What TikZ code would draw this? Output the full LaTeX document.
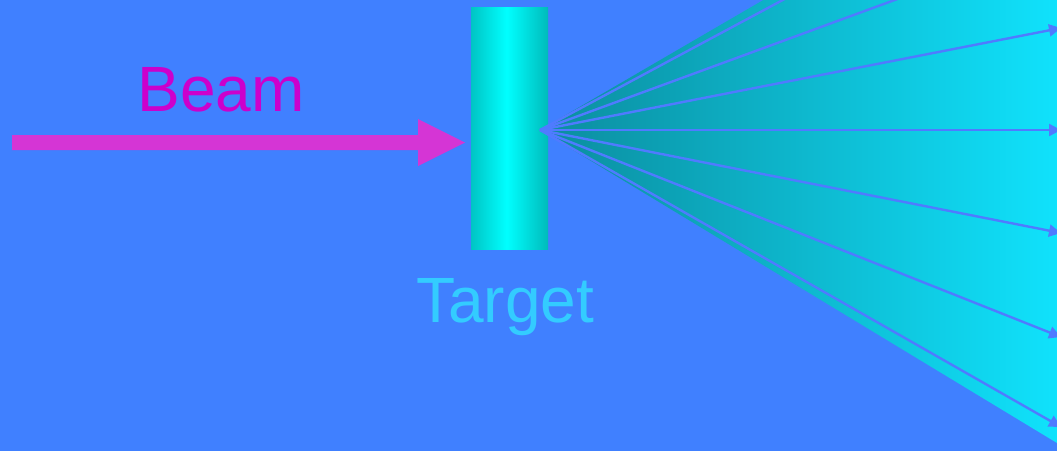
\documentclass[tikz,border=0pt]{standalone}
\usepackage{fontspec}
\setmainfont{Liberation Sans}
\usetikzlibrary{arrows.meta}
\definecolor{bg}{HTML}{4080FF}
\definecolor{raycol}{HTML}{4F7BFF}
\definecolor{fanL}{HTML}{0B8C9E}
\definecolor{fanR}{HTML}{10E2FC}
\definecolor{cylEdge}{HTML}{008080}
\definecolor{cylMid}{HTML}{00FFFF}
\definecolor{beamcol}{HTML}{D535D5}
\definecolor{beamtxt}{HTML}{CC00CC}
\definecolor{targtxt}{HTML}{33CCFF}
\pgfdeclarehorizontalshading{cylshade}{100bp}{color(0bp)=(cylEdge); color(8bp)=(cylEdge!80!cylMid); color(48bp)=(cylMid); color(88bp)=(cylEdge!80!cylMid); color(100bp)=(cylEdge)}
\tikzset{
  ray/.style={draw=raycol, line width=2.4pt, -{Triangle[length=12pt,width=12pt]}},
  label/.style={font=\fontsize{64}{64}\selectfont, inner sep=0pt, anchor=base},
}
\begin{document}
\begin{tikzpicture}[x=1pt,y=-1pt]
\useasboundingbox (0,0) rectangle (1057,451);
\clip (0,0) rectangle (1057,451);
\fill[bg] (0,0) rectangle (1057,451);
% apex and ray ends
\coordinate (apex) at (540,130);
\coordinate (eU) at (1057,-171);
\coordinate (eD) at (1057,443);
\coordinate (r1) at (1061,-149);
\coordinate (r2) at (1061,-61);
\coordinate (r3) at (1061,28);
\coordinate (r4) at (1061,130);
\coordinate (r5) at (1061,233);
\coordinate (r6) at (1061,337);
\coordinate (r7) at (1061,427);
% fan
\shade[left color=fanL, right color=fanR] (apex) -- (eU) -- (eD) -- cycle;
% target cylinder
\node (cyl) [minimum width=77pt, minimum height=242pt, inner sep=0pt, shading=cylshade, anchor=north west] at (471,7) {};
% rays
\foreach \r in {r1,r2,r3,r4,r5,r6,r7} \draw[ray] (apex) -- (\r);
% beam arrow
\fill[beamcol] (12,135) -- (418,135) -- (418,119) -- (465,142.5) -- (418,166) -- (418,150) -- (12,150) -- cycle;
% labels
\node (beam) [label, text=beamtxt] at (221,111) {Beam};
\node (target) [label, text=targtxt] at (505,322) {Target};
\end{tikzpicture}
\end{document}
